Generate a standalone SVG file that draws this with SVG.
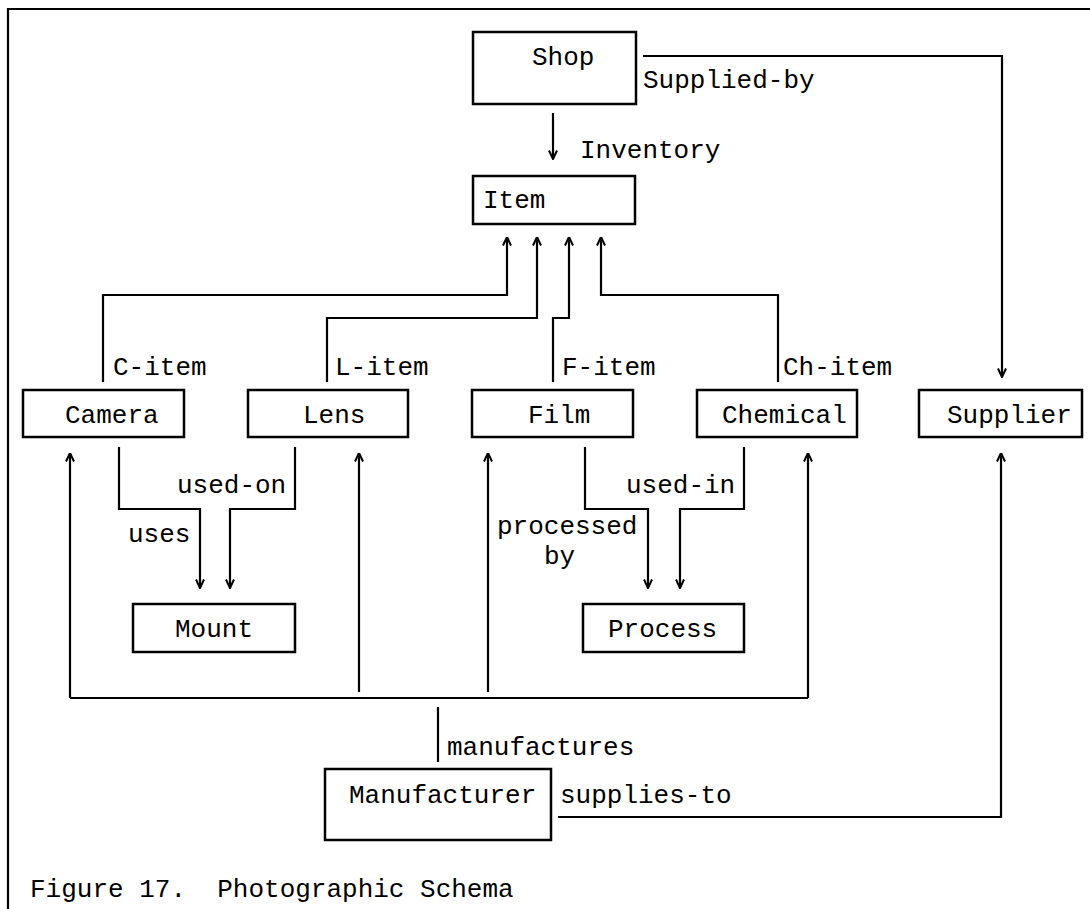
<svg xmlns="http://www.w3.org/2000/svg" width="1090" height="909" viewBox="0 0 1090 909">
<style>
text{font-family:"Liberation Mono","Courier New",monospace;font-size:26px;fill:#000}
.box{fill:#fff;stroke:#000;stroke-width:2.5}
.ln{fill:none;stroke:#000;stroke-width:2.2}
.arr{marker-end:url(#ah)}
</style>
<defs>
<marker id="ah" viewBox="0 0 10 10" refX="9.5" refY="5" markerWidth="10" markerHeight="10" markerUnits="userSpaceOnUse" orient="auto">
<path d="M1,1 L9.5,5 L1,9" fill="none" stroke="#000" stroke-width="2"/>
</marker>
</defs>
<rect width="1090" height="909" fill="#fff"/>
<g id="frame">
<path class="ln" d="M8,909 V9 H1090" stroke-width="3"/>
</g>
<g id="connectors">
<path class="ln arr" d="M643,56 H1002 V377"/>
<path class="ln arr" d="M553,113 V159"/>
<path class="ln arr" d="M103,382 V295 H507 V237"/>
<path class="ln arr" d="M327,382 V318 H537 V237"/>
<path class="ln arr" d="M553,382 V318 H569 V237"/>
<path class="ln arr" d="M778,382 V295 H601 V237"/>
<path class="ln arr" d="M119,447 V509 H200 V588"/>
<path class="ln arr" d="M295,447 V509 H230 V588"/>
<path class="ln arr" d="M585,447 V509 H648 V588"/>
<path class="ln arr" d="M744,447 V509 H680 V588"/>
<path class="ln" d="M70,698 H808"/>
<path class="ln arr" d="M70,698 V453"/>
<path class="ln arr" d="M808,698 V453"/>
<path class="ln arr" d="M359,692 V453"/>
<path class="ln arr" d="M488,692 V453"/>
<path class="ln" d="M438,707 V762"/>
<path class="ln arr" d="M558,817 H1001 V453"/>
<text x="643" y="88">Supplied-by</text>
<text x="580" y="158">Inventory</text>
<text x="113" y="375">C-item</text>
<text x="335" y="375">L-item</text>
<text x="562" y="375">F-item</text>
<text x="783" y="375">Ch-item</text>
<text x="177" y="493">used-on</text>
<text x="128" y="542">uses</text>
<text x="626" y="493">used-in</text>
<text x="497" y="534">processed<tspan x="544" dy="30">by</tspan></text>
<text x="447" y="755">manufactures</text>
<text x="560" y="803">supplies-to</text>
</g>
<g id="shop"><rect class="box" x="473" y="32" width="163" height="72"/><text x="532" y="65">Shop</text></g>
<g id="item"><rect class="box" x="473" y="176" width="162" height="48"/><text x="483" y="208">Item</text></g>
<g id="camera"><rect class="box" x="23" y="390" width="161" height="47"/><text x="65" y="423">Camera</text></g>
<g id="lens"><rect class="box" x="248" y="390" width="160" height="47"/><text x="303" y="423">Lens</text></g>
<g id="film"><rect class="box" x="472" y="390" width="161" height="47"/><text x="528" y="423">Film</text></g>
<g id="chemical"><rect class="box" x="697" y="390" width="160" height="47"/><text x="722" y="423">Chemical</text></g>
<g id="supplier"><rect class="box" x="919" y="390" width="163" height="47"/><text x="947" y="423">Supplier</text></g>
<g id="mount"><rect class="box" x="133" y="604" width="162" height="48"/><text x="175" y="637">Mount</text></g>
<g id="process"><rect class="box" x="583" y="604" width="161" height="48"/><text x="608" y="637">Process</text></g>
<g id="manufacturer"><rect class="box" x="325" y="769" width="226" height="71"/><text x="349" y="803">Manufacturer</text></g>
<g id="caption"><text x="30" y="897" xml:space="preserve">Figure 17.  Photographic Schema</text></g>
</svg>
